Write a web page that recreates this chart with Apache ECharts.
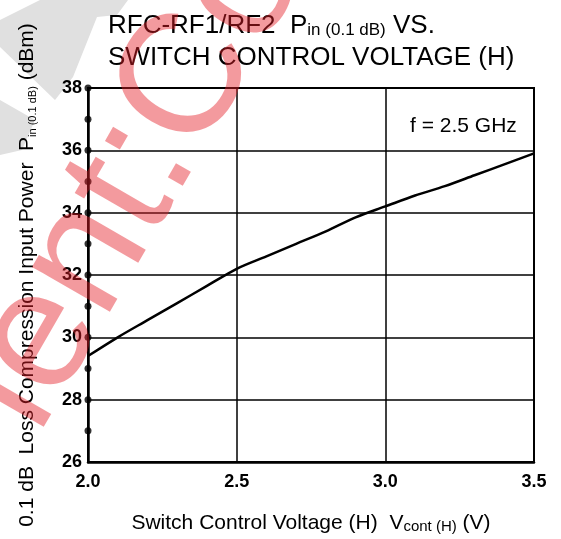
<!DOCTYPE html>
<html>
<head>
<meta charset="utf-8">
<script src="https://cdn.jsdelivr.net/npm/echarts@6/dist/echarts.min.js"></script>
<style>
html,body{margin:0;padding:0;background:#fff;}
#chart{width:561px;height:539px;}
</style>
</head>
<body>
<div id="chart"></div>
<script>
// ---- data ----
const voltage = [2.0, 2.1, 2.2, 2.3, 2.4, 2.5, 2.6, 2.7, 2.8, 2.9, 3.0, 3.1, 3.2, 3.3, 3.4, 3.5];
const pin = [29.4, 30.0, 30.55, 31.1, 31.65, 32.2, 32.6, 33.0, 33.4, 33.85, 34.2, 34.55, 34.85, 35.2, 35.55, 35.9];
const xTicks = [2.0, 2.5, 3.0, 3.5];
const yTicks = [26, 28, 30, 32, 34, 36, 38];
const yMinorDots = [27, 28, 29, 30, 31, 32, 33, 34, 35, 36, 37, 38];
const freqNote = 'f = 2.5 GHz';
const watermark = 'lent:Co';

const FONT = '"Liberation Sans", Arial, Helvetica, sans-serif';
const chart = echarts.init(document.getElementById('chart'), null, {renderer: 'canvas'});

function tok(size, lh) {
  return {fontSize: size, lineHeight: lh, fontWeight: 'normal', color: '#000', fontFamily: FONT, verticalAlign: 'bottom'};
}

const option = {
  backgroundColor: '#fff',
  animation: false,
  textStyle: {fontFamily: FONT, color: '#000'},
  title: [
    {
      text: '{a|RFC-RF1/RF2  P}{s|in (0.1 dB)}{a| VS.}\n{a|SWITCH CONTROL VOLTAGE (H)}',
      left: 103, top: 2,
      textStyle: {
        fontFamily: FONT, fontWeight: 'normal',
        rich: {a: tok(26, 32), s: tok(17, 23)}
      }
    },
    {
      text: freqNote,
      left: 405, top: 111,
      textStyle: {fontFamily: FONT, fontSize: 21, fontWeight: 'normal', color: '#000'}
    }
  ],
  grid: {left: 88, right: 27, top: 88, bottom: 77, show: true, borderColor: '#000', borderWidth: 2, backgroundColor: 'transparent'},
  xAxis: {
    type: 'value', min: 2.0, max: 3.5, interval: 0.5,
    axisLine: {show: true, onZero: false, lineStyle: {color: '#000', width: 2.5}},
    axisTick: {show: false},
    axisLabel: {color: '#000', fontSize: 18, fontWeight: 'bold', fontFamily: FONT, margin: 11, formatter: v => v.toFixed(1)},
    splitLine: {show: true, lineStyle: {color: '#000', width: 1.5}},
    name: '{a|Switch Control Voltage (H)  V}{s|cont (H)}{a| (V)}',
    nameLocation: 'middle', nameGap: 50,
    nameTextStyle: {rich: {a: tok(21, 22), s: tok(15, 17)}}
  },
  yAxis: {
    type: 'value', min: 26, max: 38, interval: 2,
    axisLine: {show: true, onZero: false, lineStyle: {color: '#000', width: 2.5}},
    axisTick: {show: false},
    axisLabel: {color: '#000', fontSize: 18, fontWeight: 'bold', fontFamily: FONT, margin: 6},
    splitLine: {show: true, lineStyle: {color: '#000', width: 1.5}},
    name: '{a|0.1 dB  Loss Compression Input Power  P}{s|in (0.1 dB)}{a| (dBm)}',
    nameLocation: 'middle', nameRotate: 90, nameGap: 50,
    nameTextStyle: {rich: {a: tok(21, 22), s: tok(11, 13)}}
  },
  series: [
    {
      type: 'line',
      data: voltage.map((v, i) => [v, pin[i]]),
      showSymbol: false,
      smooth: 0.3,
      lineStyle: {color: '#000', width: 2.5},
      z: 5
    },
    {
      type: 'scatter',
      data: yMinorDots.map(v => [xTicks[0], v]),
      symbol: 'circle', symbolSize: 7,
      itemStyle: {color: '#000'},
      clip: false,
      z: 6
    }
  ],
  graphic: [
    {
      type: 'polygon', z: -10, silent: true,
      shape: {points: [[0,20],[40,0],[128,0],[117,15],[97,17],[73,77],[55,100],[0,47]]},
      style: {fill: '#e0e0e0'}
    },
    {
      type: 'polygon', z: -10, silent: true,
      shape: {points: [[0,100],[35,120],[22,150],[0,155]]},
      style: {fill: '#e0e0e0'}
    },
    {
      type: 'text', z: 100, silent: true,
      x: 132, y: 180, rotation: 60 * Math.PI / 180,
      style: {text: watermark, font: '170px ' + FONT, fill: 'rgba(228,30,40,0.45)', textAlign: 'center', textVerticalAlign: 'middle'}
    }
  ]
};
chart.setOption(option);
</script>
</body>
</html>
